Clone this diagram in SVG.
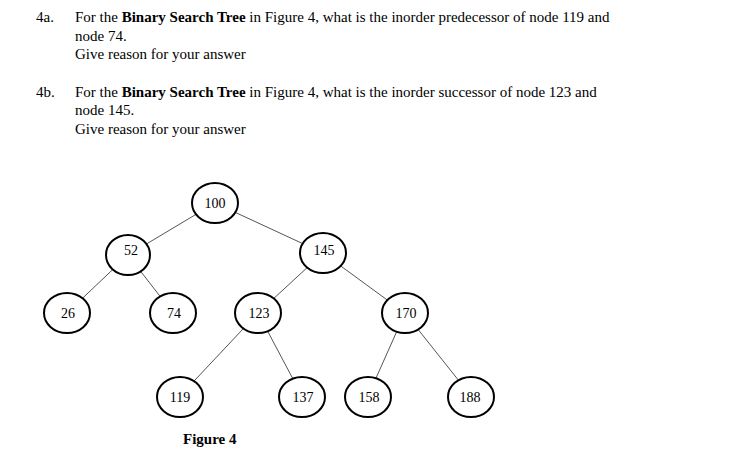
<svg xmlns="http://www.w3.org/2000/svg" width="735" height="466" viewBox="0 0 735 466">
<style>
text{font-family:"Liberation Serif","Times New Roman",serif;font-size:15px;fill:#000}
.n ellipse{fill:#fff;stroke:#000;stroke-width:2}
.n text{font-size:14px;text-anchor:middle}
#edges line{stroke:#555;stroke-width:1}
</style>
<rect width="735" height="466" fill="#fff"/>
<g id="question">
<text x="36" y="22">4a.</text>
<text x="75" y="22">For the <tspan font-weight="bold">Binary Search Tree</tspan> in Figure 4, what is the inorder predecessor of node  119 and</text>
<text x="75" y="41">node 74.</text>
<text x="75" y="59">Give reason for your answer</text>
<text x="36" y="97">4b.</text>
<text x="75" y="97">For the <tspan font-weight="bold">Binary Search Tree</tspan> in Figure 4, what is the inorder successor of node  123 and</text>
<text x="75" y="115">node 145.</text>
<text x="75" y="134">Give reason for your answer</text>
</g>
<g id="edges">
<line x1="215" y1="203" x2="128" y2="255"/>
<line x1="215" y1="203" x2="323" y2="253"/>
<line x1="128" y1="255" x2="67" y2="313"/>
<line x1="128" y1="255" x2="173" y2="313"/>
<line x1="323" y1="253" x2="258" y2="313"/>
<line x1="323" y1="253" x2="405" y2="313"/>
<line x1="258" y1="313" x2="180" y2="396"/>
<line x1="258" y1="313" x2="302" y2="396"/>
<line x1="405" y1="313" x2="368" y2="396"/>
<line x1="405" y1="313" x2="471" y2="396"/>
</g>
<g id="n100" class="n"><ellipse cx="215" cy="203" rx="23" ry="20"/><text x="215" y="208">100</text></g>
<g id="n52" class="n"><ellipse cx="128" cy="255" rx="22" ry="20"/><text x="131" y="255">52</text></g>
<g id="n145" class="n"><ellipse cx="323" cy="253" rx="23" ry="20"/><text x="324" y="255">145</text></g>
<g id="n26" class="n"><ellipse cx="67" cy="313" rx="23" ry="20"/><text x="68" y="318">26</text></g>
<g id="n74" class="n"><ellipse cx="173" cy="313" rx="23" ry="20"/><text x="174" y="318">74</text></g>
<g id="n123" class="n"><ellipse cx="258" cy="313" rx="23" ry="20"/><text x="259" y="318">123</text></g>
<g id="n170" class="n"><ellipse cx="405" cy="313" rx="23" ry="20"/><text x="406" y="318">170</text></g>
<g id="n119" class="n"><ellipse cx="180" cy="397" rx="23" ry="20"/><text x="180" y="402">119</text></g>
<g id="n137" class="n"><ellipse cx="302" cy="397" rx="23" ry="20"/><text x="303" y="402">137</text></g>
<g id="n158" class="n"><ellipse cx="368" cy="397" rx="23" ry="20"/><text x="369" y="402">158</text></g>
<g id="n188" class="n"><ellipse cx="471" cy="397" rx="23" ry="20"/><text x="470" y="402">188</text></g>
<text x="183" y="444" font-weight="bold">Figure 4</text>
</svg>
